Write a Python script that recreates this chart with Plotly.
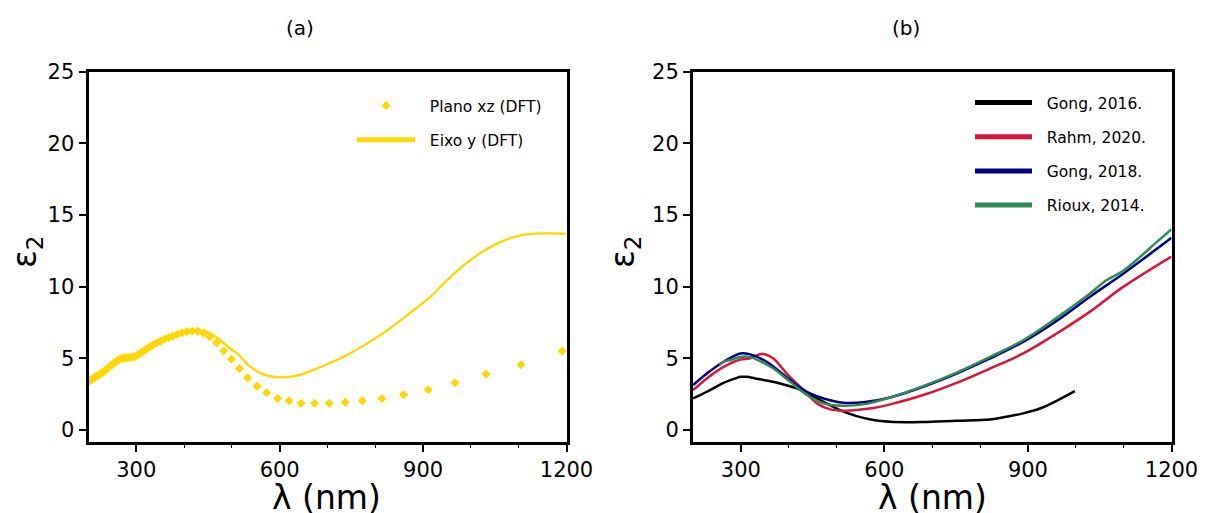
import plotly.graph_objects as go

# ---------------- data ----------------
# Panel (a): DFT results
xz_wl = [200.2, 202.8, 205.6, 208.3, 211.2, 214.1, 217.2, 220.3, 223.5, 226.7, 230.1, 233.6,
         237.2, 240.9, 244.8, 248.7, 252.8, 257.0, 261.4, 265.9, 270.6, 275.4, 280.4, 285.6,
         291.0, 296.6, 302.4, 308.5, 314.8, 321.3, 328.2, 335.3, 342.8, 350.6, 358.8, 367.3,
         376.3, 385.7, 395.7, 406.0, 417.1, 428.6, 441.0, 453.8, 467.7, 483.0, 499.0, 515.8,
         533.0, 552.6, 572.8, 595.8, 619.5, 644.5, 673.0, 703.7, 737.0, 773.0, 814.0, 859.0,
         911.0, 966.8, 1031.5, 1104.6, 1190.9]
xz_eps = [3.40, 3.44, 3.50, 3.56, 3.63, 3.70, 3.76, 3.82, 3.88, 3.96, 4.04, 4.12,
          4.22, 4.32, 4.43, 4.55, 4.66, 4.76, 4.86, 4.94, 5.00, 5.03, 5.05, 5.06,
          5.08, 5.13, 5.22, 5.35, 5.50, 5.64, 5.79, 5.94, 6.08, 6.21, 6.33, 6.44,
          6.56, 6.68, 6.78, 6.86, 6.90, 6.88, 6.76, 6.50, 6.08, 5.52, 4.94, 4.29,
          3.64, 3.06, 2.60, 2.20, 2.04, 1.86, 1.86, 1.86, 1.93, 2.04, 2.20, 2.46,
          2.81, 3.29, 3.90, 4.55, 5.50]

y_wl = [200, 220, 240, 260, 275, 290, 300, 320, 340, 360, 380, 400, 420, 440, 455, 470,
        485, 500, 514, 532, 550, 565, 580, 600, 620, 640, 670, 700, 740, 810, 880, 915,
        950, 985, 1020, 1055, 1090, 1125, 1160, 1200]
y_eps = [3.35, 3.70, 4.25, 4.80, 4.98, 5.02, 5.12, 5.50, 5.90, 6.25, 6.50, 6.70, 6.85, 6.92, 6.75, 6.40,
         6.00, 5.60, 5.25, 4.60, 4.15, 3.90, 3.75, 3.67, 3.70, 3.83, 4.18, 4.60, 5.22, 6.60, 8.35, 9.28,
         10.44, 11.48, 12.34, 13.00, 13.46, 13.67, 13.71, 13.68]

# Panel (b): literature
g16_wl = [200, 229, 264, 290, 300, 312, 330, 354, 382, 417, 445, 473, 507, 542, 577, 612,
          650, 681, 751, 821, 855, 890, 925, 960, 998]
g16_eps = [2.20, 2.67, 3.29, 3.62, 3.71, 3.71, 3.60, 3.45, 3.25, 2.90, 2.44, 1.97, 1.39, 0.97, 0.70, 0.58,
           0.55, 0.56, 0.65, 0.74, 0.93, 1.16, 1.50, 2.04, 2.71]

r20_wl = [200, 229, 264, 299, 318, 340, 350, 368, 396, 431, 459, 487, 514, 542, 577, 612,
          681, 751, 821, 890, 960, 1029, 1099, 1200]
r20_eps = [2.78, 3.60, 4.40, 4.92, 4.99, 5.29, 5.29, 4.99, 3.94, 2.78, 1.86, 1.44, 1.35, 1.39, 1.53, 1.79,
           2.44, 3.29, 4.29, 5.34, 6.73, 8.24, 9.98, 12.10]

g18_wl = [200, 229, 264, 299, 318, 354, 403, 438, 473, 514, 556, 612, 681, 751, 821, 890,
          960, 1029, 1099, 1200]
g18_eps = [3.13, 3.94, 4.76, 5.34, 5.29, 4.76, 3.48, 2.67, 2.20, 1.90, 1.93, 2.27, 3.02, 3.94, 4.99, 6.15,
           7.61, 9.28, 10.90, 13.40]

r14_wl = [255, 264, 280, 299, 318, 340, 368, 403, 438, 473, 514, 556, 612, 681, 751, 821,
          890, 960, 1029, 1064, 1099, 1169, 1200]
r14_eps = [4.55, 4.76, 4.90, 5.10, 5.10, 4.80, 4.29, 3.36, 2.44, 1.86, 1.69, 1.79, 2.27, 3.06, 4.00, 5.10,
           6.26, 7.82, 9.50, 10.44, 11.10, 13.10, 14.00]

x_ticks = [300, 600, 900, 1200]
x_minor = [400, 500, 700, 800, 1000, 1100]
y_ticks = [0, 5, 10, 15, 20, 25]

GOLD = "#FFD700"
FONT = "DejaVu Sans"
OFF = 8                      # page body margin of the html page
W, H = 1205 - OFF, 513 - OFF
GAP = "\u00a0\u00a0"         # extra room between legend sample and legend text


def px(xp):
    return (xp - OFF) / W


def py(yp):
    return (H - (yp - OFF)) / H


fig = go.Figure()

# Panel (a)
fig.add_trace(go.Scatter(x=xz_wl, y=xz_eps, mode="markers", name=GAP + "Plano xz (DFT)",
                         marker=dict(symbol="diamond", size=7, color=GOLD),
                         xaxis="x", yaxis="y", legend="legend", legendgroup="a1"))
fig.add_trace(go.Scatter(x=y_wl, y=y_eps, mode="lines", line=dict(color=GOLD, width=2.3),
                         line_shape="spline", showlegend=False, xaxis="x", yaxis="y"))
fig.add_trace(go.Scatter(x=[None], y=[None], mode="lines", name=GAP + "Eixo y (DFT)",
                         line=dict(color=GOLD, width=5), xaxis="x", yaxis="y",
                         legend="legend", legendgroup="a2"))

# Panel (b)
series_b = [
    (g16_wl, g16_eps, "black", "Gong, 2016."),
    (r20_wl, r20_eps, "#DC143C", "Rahm, 2020."),
    (g18_wl, g18_eps, "#000080", "Gong, 2018."),
    (r14_wl, r14_eps, "#2E8B57", "Rioux, 2014."),
]
for i, (xs, ys, col, nm) in enumerate(series_b):
    fig.add_trace(go.Scatter(x=xs, y=ys, mode="lines", line=dict(color=col, width=2.5),
                             line_shape="spline", showlegend=False, xaxis="x2", yaxis="y2"))
    fig.add_trace(go.Scatter(x=[None], y=[None], mode="lines", name=GAP + nm,
                             line=dict(color=col, width=5), xaxis="x2", yaxis="y2",
                             legend="legend2", legendgroup="b%d" % i))


def xax(x0, x1, anchor):
    return dict(domain=[px(x0), px(x1)], anchor=anchor, range=[200, 1200], tickvals=x_ticks,
                ticks="outside", ticklen=7, tickwidth=1.5, tickcolor="black",
                showline=True, linewidth=3, linecolor="black", mirror=True,
                showgrid=False, zeroline=False, automargin=False,
                tickfont=dict(family=FONT, size=21, color="black"),
                minor=dict(tickvals=x_minor, ticks="outside", ticklen=3.5, tickwidth=1,
                           tickcolor="black", showgrid=False))


def yax(anchor):
    return dict(domain=[py(441.5), py(71.5)], anchor=anchor, range=[-0.8, 25.0], tickvals=y_ticks,
                ticks="outside", ticklen=7, tickwidth=1.5, tickcolor="black",
                showline=True, linewidth=3, linecolor="black", mirror=True,
                showgrid=False, zeroline=False, automargin=False,
                tickfont=dict(family=FONT, size=21, color="black"))


annotations = [
    dict(text="(a)", x=px(300), y=py(28), font=dict(size=20)),
    dict(text="(b)", x=px(906), y=py(28), font=dict(size=20)),
    dict(text="λ (nm)", x=px(326), y=py(497), font=dict(size=33)),
    dict(text="λ (nm)", x=px(932), y=py(497), font=dict(size=33)),
    dict(text="ε<sub>2</sub>", x=px(26), y=py(252), font=dict(size=33), textangle=-90),
    dict(text="ε<sub>2</sub>", x=px(624), y=py(252), font=dict(size=33), textangle=-90),
]
for a in annotations:
    a.update(xref="paper", yref="paper", showarrow=False, xanchor="center", yanchor="middle")
    a["font"].update(family=FONT, color="black")

fig.update_layout(
    width=W, height=H,
    margin=dict(l=0, r=0, t=0, b=0, autoexpand=False),
    paper_bgcolor="white", plot_bgcolor="white",
    font=dict(family=FONT, color="black"),
    xaxis=xax(88.5, 566.5, "y"),
    yaxis=yax("x"),
    xaxis2=xax(693, 1171.5, "y2"),
    yaxis2=yax("x2"),
    legend=dict(x=px(352), y=py(89), xanchor="left", yanchor="top", itemwidth=58,
                bgcolor="rgba(0,0,0,0)", font=dict(family=FONT, size=15.5),
                traceorder="grouped", tracegroupgap=11),
    legend2=dict(x=px(970), y=py(86), xanchor="left", yanchor="top", itemwidth=57,
                 bgcolor="rgba(0,0,0,0)", font=dict(family=FONT, size=15.5),
                 traceorder="grouped", tracegroupgap=11),
    annotations=annotations,
    showlegend=True,
)

fig.write_html("out.html")
